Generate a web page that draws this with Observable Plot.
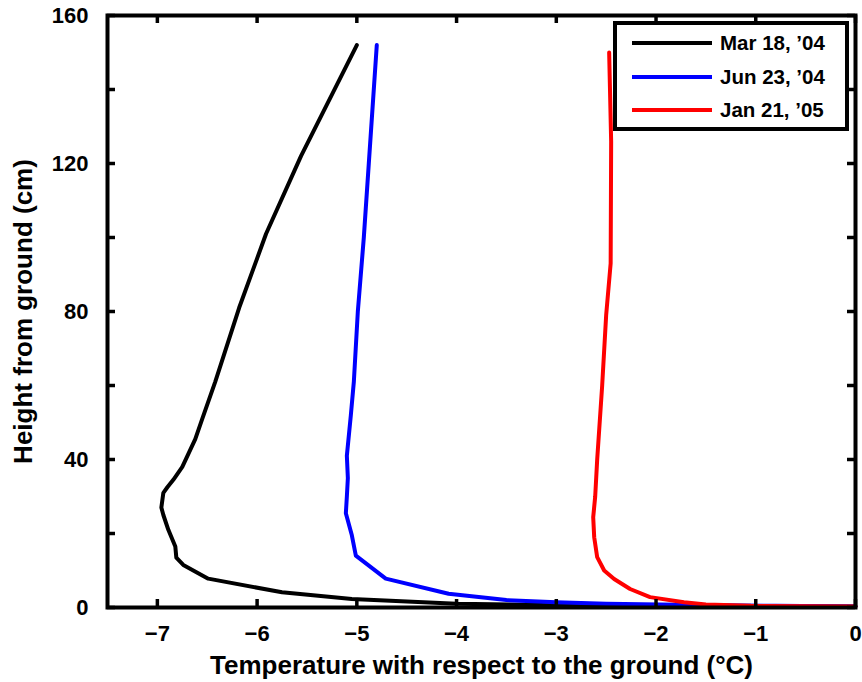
<!DOCTYPE html>
<html>
<head>
<meta charset="utf-8">
<script src="https://cdn.jsdelivr.net/npm/d3@7"></script>
<script src="https://cdn.jsdelivr.net/npm/@observablehq/plot@0.6"></script>
<style>
  body { margin: 0; background: #fff; }
  #chart { position: relative; width: 862px; height: 682px; font-family: "Liberation Sans", Arial, Helvetica, sans-serif; font-weight: bold; }
  #chart svg { display: block; }
  g[aria-label="x-axis label"], g[aria-label="y-axis label"] { font-size: 26px; }
  #legend { position: absolute; left: 613px; top: 21px; width: 236px; height: 110px; box-sizing: border-box; border: 4px solid #000; background: #fff; }
  #legend .row { position: absolute; left: 0; width: 100%; height: 0; }
  #legend .swatch { position: absolute; left: 15px; top: -2px; width: 80px; height: 4px; }
  #legend .lab { position: absolute; left: 103px; top: -12px; font-size: 20.5px; line-height: 24px; color: #000; white-space: nowrap; }
</style>
</head>
<body>
<div id="chart"></div>
<script>
// ---- data ----
const seriesNames = ["Mar 18, \u201904", "Jun 23, \u201904", "Jan 21, \u201905"];
const seriesColors = ["#000000", "#0000ff", "#ff0000"];

const marHeight = [152, 122, 101, 81, 61, 51, 45.5, 38, 34.5, 32.5, 31, 27, 25, 21, 16.5, 13.5, 11.5, 7.8, 4.1, 2.3, 1.0, 0.6, 0.3];
const marTemp   = [-5.00, -5.56, -5.91, -6.18, -6.42, -6.55, -6.62, -6.75, -6.84, -6.90, -6.94, -6.96, -6.94, -6.89, -6.82, -6.81, -6.74, -6.49, -5.75, -5.05, -4.0, -3.0, 0];

const junHeight = [152, 120, 100, 80, 61, 52, 41, 35, 30, 25.5, 19.5, 14, 7.8, 3.7, 2.0, 1.4, 1.0, 0.7, 0.45, 0.3];
const junTemp   = [-4.80, -4.88, -4.93, -4.99, -5.03, -5.06, -5.10, -5.09, -5.10, -5.11, -5.05, -5.01, -4.71, -4.08, -3.5, -3.0, -2.5, -1.6, -0.8, 0];

const janHeight = [150, 126, 93, 79, 60, 40, 30, 24.4, 19, 13.6, 10, 7.7, 5.0, 2.8, 1.4, 0.8, 0.45, 0.3];
const janTemp   = [-2.47, -2.45, -2.455, -2.50, -2.54, -2.59, -2.61, -2.63, -2.62, -2.59, -2.52, -2.42, -2.26, -2.06, -1.72, -1.50, -1.05, 0];

const xTicks = [-7, -6, -5, -4, -3, -2, -1, 0];
const yTickLabels = [0, 40, 80, 120, 160];
const yTickMarks = [0, 20, 40, 60, 80, 100, 120, 140, 160];

// ---- build table ----
const heights = [marHeight, junHeight, janHeight];
const temps = [marTemp, junTemp, janTemp];
const rows = [];
seriesNames.forEach((s, i) => heights[i].forEach((h, j) => rows.push({series: s, h, t: temps[i][j]})));

const W = 862, H = 682, mL = 107, mR = 7, mT = 15, mB = 75;
const fw = W - mL - mR, fh = H - mT - mB, tk = 8;
const fmt = d => (d < 0 ? "\u2212" + Math.abs(d) : String(d));

const chart = Plot.plot({
  width: W, height: H,
  marginLeft: mL, marginRight: mR, marginTop: mT, marginBottom: mB,
  style: {fontFamily: "'Liberation Sans', Arial, Helvetica, sans-serif", fontWeight: "bold", fontSize: "22px", color: "#000", background: "#fff", overflow: "visible"},
  x: {domain: [-7.5, 0]},
  y: {domain: [0, 160]},
  color: {domain: seriesNames, range: seriesColors},
  marks: [
    Plot.line(rows, {x: "t", y: "h", z: "series", stroke: "series", strokeWidth: 4, strokeLinejoin: "round"}),
    Plot.tickX(xTicks, {x: d => d, insetTop: fh - tk, stroke: "#000", strokeWidth: 3.5}),
    Plot.tickX(xTicks, {x: d => d, insetBottom: fh - tk, stroke: "#000", strokeWidth: 3.5}),
    Plot.tickY(yTickMarks, {y: d => d, insetRight: fw - tk, stroke: "#000", strokeWidth: 3.5}),
    Plot.tickY(yTickMarks, {y: d => d, insetLeft: fw - tk, stroke: "#000", strokeWidth: 3.5}),
    Plot.frame({stroke: "#000", strokeWidth: 4}),
    Plot.axisX({ticks: xTicks, tickSize: 0, tickPadding: 18, tickFormat: fmt,
      label: "Temperature with respect to the ground (\u00b0C)", labelAnchor: "center", labelArrow: "none", labelOffset: 66}),
    Plot.axisY({ticks: yTickLabels, tickSize: 0, tickPadding: 19, tickFormat: fmt,
      label: "Height from ground (cm)", labelAnchor: "center", labelArrow: "none", labelOffset: 94})
  ]
});
document.getElementById("chart").appendChild(chart);

// ---- legend ----
const legend = document.createElement("div");
legend.id = "legend";
seriesNames.forEach((s, i) => {
  const row = document.createElement("div");
  row.className = "row";
  row.style.top = (18.3 + i * 33.3) + "px";
  const sw = document.createElement("div");
  sw.className = "swatch";
  sw.style.background = seriesColors[i];
  const lab = document.createElement("div");
  lab.className = "lab";
  lab.textContent = s;
  row.appendChild(sw); row.appendChild(lab);
  legend.appendChild(row);
});
document.getElementById("chart").appendChild(legend);
</script>
</body>
</html>
